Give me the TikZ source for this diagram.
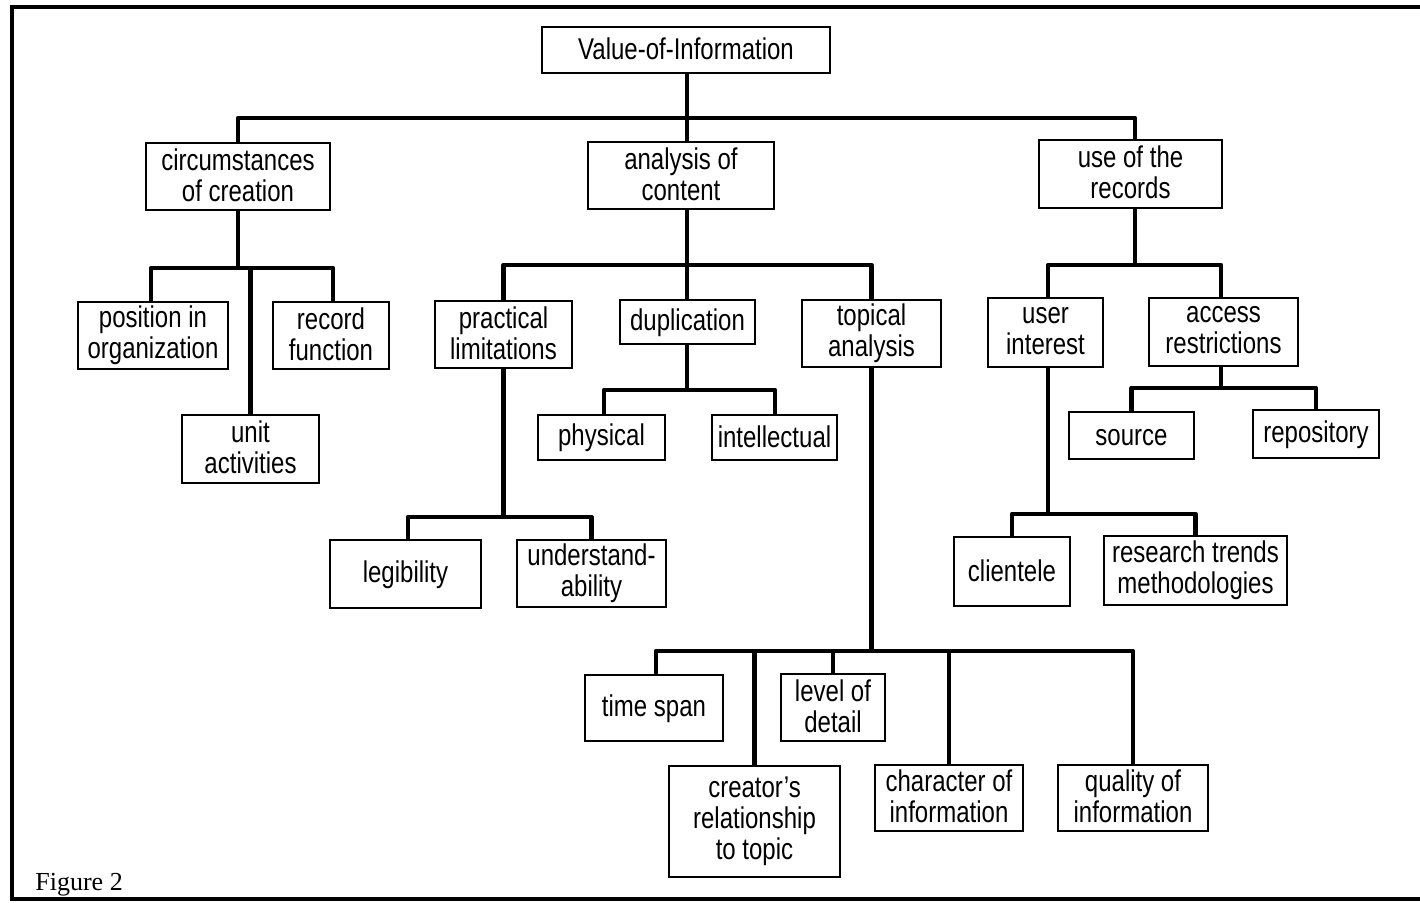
\documentclass[tikz,border=0pt]{standalone}
\usepackage{fontspec}
\setmainfont{Liberation Sans}[FakeStretch=0.8]
\newfontfamily\capfont{Liberation Serif}
\newcommand\mystrut{\vrule width0pt height 11.5pt depth 1.8pt\relax}
\newcommand\bx[6]{\node[box, minimum width={(#4-#2)*0.5pt}, minimum height={(#5-#3)*0.5pt}] (#1) at ({(#2+#4)/2},{(#3+#5)/2}) {#6};}
\begin{document}
\begin{tikzpicture}[x=0.5pt,y=-0.5pt,
  box/.style={draw, line width=1pt, rectangle, inner sep=0pt, align=center, font=\fontsize{15}{15.5}\selectfont,
    execute at begin node=\mystrut, execute at end node=\mystrut},
  conn/.style={line width=2.4pt, line join=round},
  frame/.style={line width=2pt}]
\useasboundingbox (0,0) rectangle (1420,902);
\draw[frame] (1420,7) -- (12,7) -- (12,899) -- (1420,899);
% boxes
\bx{voi}{542}{27}{830}{73}{Value-of-Information}
\bx{circ}{146}{143}{330}{210}{circumstances\\of creation}
\bx{anal}{588}{142}{774}{209}{analysis of\\content}
\bx{use}{1039}{140}{1222}{208}{use of the\\records}
\bx{pos}{78}{302}{228}{369}{position in\\organization}
\bx{unit}{182}{415}{319}{483}{unit\\activities}
\bx{rec}{273}{302}{389}{369}{record\\function}
\bx{prac}{435}{301}{572}{368}{practical\\limitations}
\bx{dup}{620}{300}{755}{344}{duplication}
\bx{top}{802}{300}{941}{367}{topical\\analysis}
\bx{phys}{538}{415}{665}{460}{physical}
\bx{intel}{712}{415}{837}{460}{intellectual}
\bx{leg}{330}{540}{481}{608}{legibility}
\bx{und}{517}{540}{666}{607}{understand-\\ability}
\bx{ts}{585}{675}{723}{741}{time span}
\bx{cre}{669}{766}{840}{877}{creator's\\relationship\\to topic}
\bx{lev}{781}{674}{885}{741}{level of\\detail}
\bx{cha}{875}{765}{1023}{831}{character of\\information}
\bx{qua}{1058}{765}{1208}{831}{quality of\\information}
\bx{user}{988}{298}{1103}{367}{user\\interest}
\bx{acc}{1149}{298}{1298}{366}{access\\restrictions}
\bx{src}{1069}{412}{1194}{459}{source}
\bx{repo}{1253}{410}{1379}{458}{repository}
\bx{cli}{954}{537}{1070}{606}{clientele}
\bx{res}{1104}{536}{1287}{605}{research trends\\methodologies}
% connectors
\draw[conn] (687,0 |- voi.south) -- (687,118);
\draw[conn] (circ.north) -- (circ.north |- 0,118) -- (1135,118) -- (1135,0 |- use.north);
\draw[conn] (687,0 |- anal.north) -- (687,118);
\draw[conn] (circ.south) -- (circ.south |- 0,268);
\draw[conn] (151,0 |- pos.north) -- (151,268) -- (333,268) -- (333,0 |- rec.north);
\draw[conn] (unit.north) -- (unit.north |- 0,268);
\draw[conn] (687,0 |- anal.south) -- (687,265);
\draw[conn] (prac.north) -- (prac.north |- 0,265) -- (top.north |- 0,265) -- (top.north);
\draw[conn] (687,0 |- dup.north) -- (687,265);
\draw[conn] (687,0 |- dup.south) -- (687,390);
\draw[conn] (604,0 |- phys.north) -- (604,390) -- (775,390) -- (775,0 |- intel.north);
\draw[conn] (prac.south) -- (prac.south |- 0,517);
\draw[conn] (408,0 |- leg.north) -- (408,517) -- (und.north |- 0,517) -- (und.north);
\draw[conn] (top.south) -- (top.south |- 0,651);
\draw[conn] (656,0 |- ts.north) -- (656,651) -- (qua.north |- 0,651) -- (qua.north);
\draw[conn] (cre.north) -- (cre.north |- 0,651);
\draw[conn] (lev.north) -- (lev.north |- 0,651);
\draw[conn] (cha.north) -- (cha.north |- 0,651);
\draw[conn] (1135,0 |- use.south) -- (1135,265);
\draw[conn] (1048,0 |- user.north) -- (1048,265) -- (1221,265) -- (1221,0 |- acc.north);
\draw[conn] (1221,0 |- acc.south) -- (1221,388);
\draw[conn] (src.north) -- (src.north |- 0,388) -- (repo.north |- 0,388) -- (repo.north);
\draw[conn] (1048,0 |- user.south) -- (1048,514);
\draw[conn] (cli.north) -- (cli.north |- 0,514) -- (res.north |- 0,514) -- (res.north);
\node[anchor=base west, inner sep=0pt, font=\capfont\fontsize{13}{15}\selectfont] (fig) at (35,890) {Figure 2};
\end{tikzpicture}
\end{document}
